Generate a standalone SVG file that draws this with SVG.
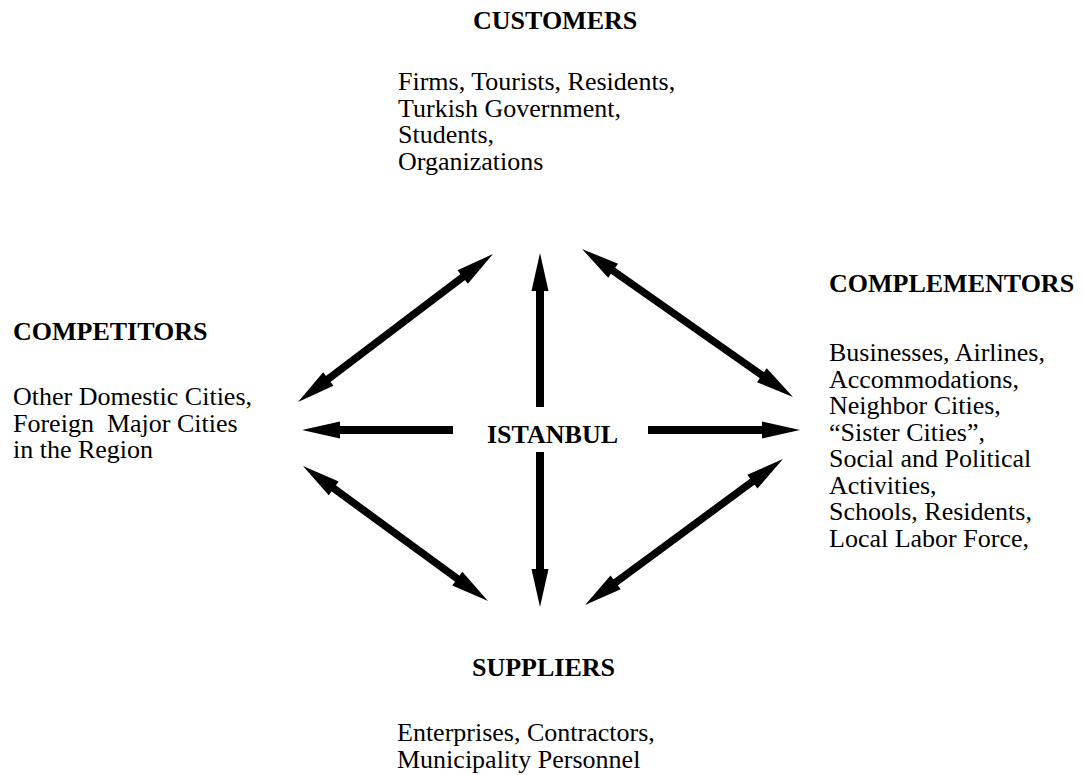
<svg xmlns="http://www.w3.org/2000/svg" width="1083" height="775" viewBox="0 0 1083 775">
<style>
text{font-family:"Liberation Serif","Times New Roman",serif;font-size:26px;fill:#000}
.h{font-weight:bold}
.c line{stroke:#000;stroke-width:8;fill:none}
.c .d{stroke-width:7.5}
</style>
<defs>
<marker id="ah" markerUnits="userSpaceOnUse" markerWidth="40" markerHeight="20" refX="1" refY="10" orient="auto-start-reverse" overflow="visible">
<path d="M0,1.5 L38,10 L0,18.5 z" fill="#000"/>
</marker>
</defs>
<rect width="1083" height="775" fill="#fff"/>
<g id="connectors" class="c">
<line x1="540" y1="407" x2="540" y2="290" marker-end="url(#ah)"/>
<line x1="540" y1="452" x2="540" y2="570" marker-end="url(#ah)"/>
<line x1="453" y1="430" x2="339" y2="430" marker-end="url(#ah)"/>
<line x1="648" y1="430" x2="763" y2="430" marker-end="url(#ah)"/>
<line class="d" x1="327.5" y1="379.6" x2="463.5" y2="276.4" marker-start="url(#ah)" marker-end="url(#ah)"/>
<line class="d" x1="612.3" y1="270.2" x2="762.7" y2="375.8" marker-start="url(#ah)" marker-end="url(#ah)"/>
<line class="d" x1="332.9" y1="487.8" x2="458.1" y2="579.2" marker-start="url(#ah)" marker-end="url(#ah)"/>
<line class="d" x1="753.2" y1="481" x2="614.8" y2="583" marker-start="url(#ah)" marker-end="url(#ah)"/>
</g>
<g id="istanbul">
<text class="h" x="487" y="443">ISTANBUL</text>
</g>
<g id="customers">
<text class="h" x="473" y="29">CUSTOMERS</text>
<text x="398" y="90">Firms, Tourists, Residents,</text>
<text x="398" y="116.5">Turkish Government,</text>
<text x="398" y="143">Students,</text>
<text x="398" y="169.5">Organizations</text>
</g>
<g id="competitors">
<text class="h" x="13" y="340">COMPETITORS</text>
<text x="13" y="405">Other Domestic Cities,</text>
<text x="13" y="431.5" xml:space="preserve">Foreign  Major Cities</text>
<text x="13" y="458">in the Region</text>
</g>
<g id="complementors">
<text class="h" x="829" y="292">COMPLEMENTORS</text>
<text x="829" y="361">Businesses, Airlines,</text>
<text x="829" y="387.5">Accommodations,</text>
<text x="829" y="414">Neighbor Cities,</text>
<text x="829" y="440.5">“Sister Cities”,</text>
<text x="829" y="467">Social and Political</text>
<text x="829" y="493.5">Activities,</text>
<text x="829" y="520">Schools, Residents,</text>
<text x="829" y="546.5">Local Labor Force,</text>
</g>
<g id="suppliers">
<text class="h" x="472" y="676">SUPPLIERS</text>
<text x="397" y="741">Enterprises, Contractors,</text>
<text x="397" y="768">Municipality Personnel</text>
</g>
</svg>
